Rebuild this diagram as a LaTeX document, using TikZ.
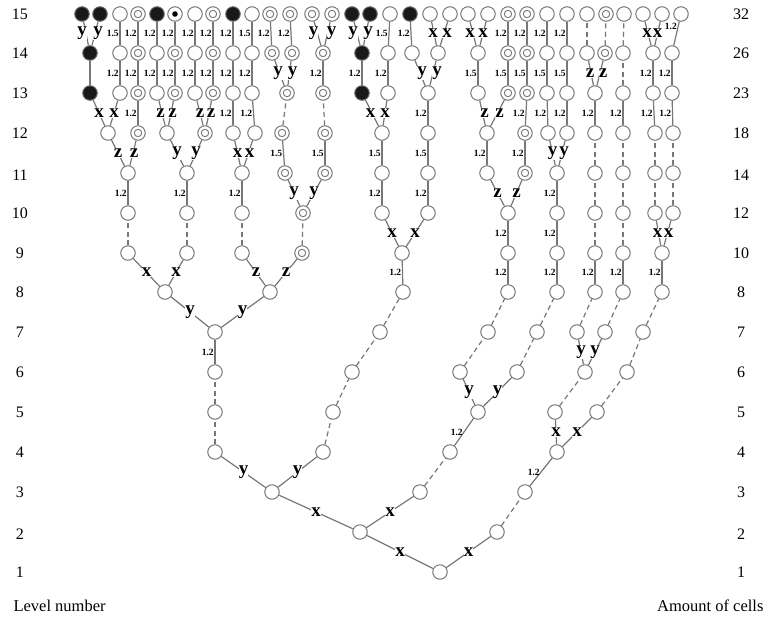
\documentclass[tikz,border=0pt]{standalone}
\usepackage{fontspec}
\setmainfont{Liberation Serif}
\definecolor{cgray}{HTML}{777777}
\begin{document}
\begin{tikzpicture}[x=1pt,y=-1pt,
 cell/.style={circle,draw=cgray,line width=1pt,minimum size=14.5pt,inner sep=0pt,fill=white},
 dbl/.style={cell,path picture={\draw[cgray,line width=0.9pt] (path picture bounding box.center) circle (3.7pt);}},
 blk/.style={cell,fill=black!90,draw=black!60},
 dotc/.style={cell,path picture={\fill[black] (path picture bounding box.center) circle (2.8pt);}},
 edge/.style={draw=cgray,line width=1.2pt},
 dsh/.style={edge,dash pattern=on 5pt off 3.5pt},
 lab/.style={font=\fontsize{19}{19}\selectfont\bfseries,fill=white,inner sep=0.2pt},
 num/.style={font=\fontsize{9.5}{9.5}\selectfont\bfseries,inner sep=0.4pt,anchor=east,xshift=-0.3pt},
 side/.style={font=\fontsize{16}{16}\selectfont},
 bot/.style={font=\fontsize{16.5}{16.5}\selectfont}]
\useasboundingbox (0,0) rectangle (768,619);
% ---------------- level 1-8
\node[cell] (r) at (440,572) {};
\node[cell] (a) at (360,532) {};
\node[cell] (b) at (497,532) {};
\node[cell] (a1) at (272,492) {};
\node[cell] (a2) at (420,492) {};
\node[cell] (b1) at (525,492) {};
\node[cell] (c1) at (215,452) {};
\node[cell] (c2) at (323,452) {};
\node[cell] (c3) at (450,452) {};
\node[cell] (c4) at (557,452) {};
\node[cell] (d1) at (215,412) {};
\node[cell] (d2) at (333,412) {};
\node[cell] (d3) at (478,412) {};
\node[cell] (d4) at (555,412) {};
\node[cell] (d5) at (597,412) {};
\node[cell] (e1) at (215,372) {};
\node[cell] (e2) at (352,372) {};
\node[cell] (e3) at (460,372) {};
\node[cell] (e4) at (517,372) {};
\node[cell] (e5) at (585,372) {};
\node[cell] (e6) at (627,372) {};
\node[cell] (f1) at (215,332) {};
\node[cell] (f2) at (380,332) {};
\node[cell] (f3) at (488,332) {};
\node[cell] (f4) at (537,332) {};
\node[cell] (f5) at (577,332) {};
\node[cell] (f6) at (605,332) {};
\node[cell] (f7) at (643,332) {};
\node[cell] (g1) at (165,292) {};
\node[cell] (g2) at (270,292) {};
\node[cell] (g3) at (403,292) {};
\node[cell] (g4) at (508,292) {};
\node[cell] (g5) at (557,292) {};
\node[cell] (g6) at (595,292) {};
\node[cell] (g7) at (623,292) {};
\node[cell] (g8) at (662,292) {};
% ---------------- level 9
\node[cell] (h1) at (128,253) {};
\node[cell] (h2) at (187,253) {};
\node[cell] (h3) at (242,253) {};
\node[dbl] (h4) at (302,253) {};
\node[cell] (h5) at (402,253) {};
\node[cell] (h6) at (508,253) {};
\node[cell] (h7) at (557,253) {};
\node[cell] (h8) at (595,253) {};
\node[cell] (h9) at (623,253) {};
\node[cell] (h10) at (662,253) {};
% ---------------- level 10
\node[cell] (i1) at (128,213) {};
\node[cell] (i2) at (187,213) {};
\node[cell] (i3) at (242,213) {};
\node[dbl] (i4) at (303,213) {};
\node[cell] (i5) at (382,213) {};
\node[cell] (i6) at (428,213) {};
\node[cell] (i7) at (508,213) {};
\node[cell] (i8) at (557,213) {};
\node[cell] (i9) at (595,213) {};
\node[cell] (i10) at (623,213) {};
\node[cell] (i11) at (655,213) {};
\node[cell] (i12) at (673,213) {};
% ---------------- level 11
\node[cell] (j1) at (128,173) {};
\node[cell] (j2) at (187,173) {};
\node[cell] (j3) at (242,173) {};
\node[dbl] (j4) at (285,173) {};
\node[dbl] (j5) at (325,173) {};
\node[cell] (j6) at (382,173) {};
\node[cell] (j7) at (428,173) {};
\node[cell] (j8) at (487,173) {};
\node[dbl] (j9) at (525,173) {};
\node[cell] (j10) at (557,173) {};
\node[cell] (j11) at (595,173) {};
\node[cell] (j12) at (623,173) {};
\node[cell] (j13) at (655,173) {};
\node[cell] (j14) at (673,173) {};
% ---------------- level 12
\node[cell] (k1) at (108,133) {};
\node[dbl] (k2) at (138,133) {};
\node[cell] (k3) at (167,133) {};
\node[dbl] (k4) at (205,133) {};
\node[cell] (k5) at (233,133) {};
\node[cell] (k6) at (255,133) {};
\node[dbl] (k7) at (282,133) {};
\node[dbl] (k8) at (325,133) {};
\node[cell] (k9) at (382,133) {};
\node[cell] (k10) at (428,133) {};
\node[cell] (k11) at (487,133) {};
\node[dbl] (k12) at (525,133) {};
\node[cell] (k13) at (548,133) {};
\node[cell] (k14) at (567,133) {};
\node[cell] (k15) at (595,133) {};
\node[cell] (k16) at (623,133) {};
\node[cell] (k17) at (655,133) {};
\node[cell] (k18) at (673,133) {};
% ---------------- level 13
\node[blk] (m1) at (90,93) {};
\node[cell] (m2) at (120,93) {};
\node[dbl] (m3) at (138,93) {};
\node[cell] (m4) at (157,93) {};
\node[dbl] (m5) at (175,93) {};
\node[cell] (m6) at (195,93) {};
\node[dbl] (m7) at (213,93) {};
\node[cell] (m8) at (233,93) {};
\node[cell] (m9) at (252,93) {};
\node[dbl] (m10) at (287,93) {};
\node[dbl] (m11) at (323,93) {};
\node[blk] (m12) at (362,93) {};
\node[cell] (m13) at (388,93) {};
\node[cell] (m14) at (428,93) {};
\node[cell] (m15) at (478,93) {};
\node[dbl] (m16) at (508,93) {};
\node[dbl] (m17) at (527,93) {};
\node[cell] (m18) at (547,93) {};
\node[cell] (m19) at (567,93) {};
\node[cell] (m20) at (595,93) {};
\node[cell] (m21) at (623,93) {};
\node[cell] (m22) at (653,93) {};
\node[cell] (m23) at (672,93) {};
% ---------------- level 14
\node[blk] (n1) at (90,53) {};
\node[cell] (n2) at (120,53) {};
\node[dbl] (n3) at (138,53) {};
\node[cell] (n4) at (157,53) {};
\node[dbl] (n5) at (175,53) {};
\node[cell] (n6) at (195,53) {};
\node[dbl] (n7) at (213,53) {};
\node[cell] (n8) at (233,53) {};
\node[cell] (n9) at (252,53) {};
\node[dbl] (n10) at (272,53) {};
\node[dbl] (n11) at (292,53) {};
\node[dbl] (n12) at (323,53) {};
\node[blk] (n13) at (362,53) {};
\node[cell] (n14) at (388,53) {};
\node[cell] (n15) at (412,53) {};
\node[cell] (n16) at (438,53) {};
\node[cell] (n17) at (478,53) {};
\node[dbl] (n18) at (508,53) {};
\node[dbl] (n19) at (527,53) {};
\node[cell] (n20) at (547,53) {};
\node[cell] (n21) at (567,53) {};
\node[cell] (n22) at (587,53) {};
\node[dbl] (n23) at (605,53) {};
\node[cell] (n24) at (623,53) {};
\node[cell] (n25) at (653,53) {};
\node[cell] (n26) at (672,53) {};
% ---------------- level 15
\node[blk] (o1) at (82,14) {};
\node[blk] (o2) at (100,14) {};
\node[cell] (o3) at (120,14) {};
\node[dbl] (o4) at (138,14) {};
\node[blk] (o5) at (157,14) {};
\node[dotc] (o6) at (175,14) {};
\node[cell] (o7) at (195,14) {};
\node[dbl] (o8) at (213,14) {};
\node[blk] (o9) at (233,14) {};
\node[cell] (o10) at (252,14) {};
\node[dbl] (o11) at (270,14) {};
\node[dbl] (o12) at (290,14) {};
\node[dbl] (o13) at (312,14) {};
\node[dbl] (o14) at (332,14) {};
\node[blk] (o15) at (352,14) {};
\node[blk] (o16) at (370,14) {};
\node[cell] (o17) at (390,14) {};
\node[blk] (o18) at (410,14) {};
\node[cell] (o19) at (430,14) {};
\node[cell] (o20) at (450,14) {};
\node[cell] (o21) at (468,14) {};
\node[cell] (o22) at (488,14) {};
\node[dbl] (o23) at (508,14) {};
\node[dbl] (o24) at (527,14) {};
\node[cell] (o25) at (547,14) {};
\node[cell] (o26) at (567,14) {};
\node[cell] (o27) at (587,14) {};
\node[dbl] (o28) at (606,14) {};
\node[cell] (o29) at (624,14) {};
\node[cell] (o30) at (643,14) {};
\node[cell] (o31) at (662,14) {};
\node[cell] (o32) at (681,14) {};
% ================= edges
% L1-L2-L3-L4
\draw[edge] (r) -- node[lab]{x} (a);
\draw[edge] (r) -- node[lab]{x} (b);
\draw[edge] (a) -- node[lab]{x} (a1);
\draw[edge] (a) -- node[lab]{x} (a2);
\draw[dsh] (b) -- (b1);
\draw[edge] (a1) -- node[lab]{y} (c1);
\draw[edge] (a1) -- node[lab]{y} (c2);
\draw[dsh] (a2) -- (c3);
\draw[edge] (b1) -- node[num]{1.2} (c4);
% L4-L5
\draw[dsh] (c1) -- (d1);
\draw[dsh] (c2) -- (d2);
\draw[edge] (c3) -- node[num]{1.2} (d3);
\draw[edge] (c4) -- node[lab]{x} (d4);
\draw[edge] (c4) -- node[lab]{x} (d5);
% L5-L6
\draw[dsh] (d1) -- (e1);
\draw[dsh] (d2) -- (e2);
\draw[edge] (d3) -- node[lab]{y} (e3);
\draw[edge] (d3) -- node[lab]{y} (e4);
\draw[dsh] (d4) -- (e5);
\draw[dsh] (d5) -- (e6);
% L6-L7
\draw[edge] (e1) -- node[num]{1.2} (f1);
\draw[dsh] (e2) -- (f2);
\draw[dsh] (e3) -- (f3);
\draw[dsh] (e4) -- (f4);
\draw[edge] (e5) -- node[lab]{y} (f5);
\draw[edge] (e5) -- node[lab]{y} (f6);
\draw[dsh] (e6) -- (f7);
% L7-L8
\draw[edge] (f1) -- node[lab]{y} (g1);
\draw[edge] (f1) -- node[lab]{y} (g2);
\draw[dsh] (f2) -- (g3);
\draw[dsh] (f3) -- (g4);
\draw[dsh] (f4) -- (g5);
\draw[dsh] (f5) -- (g6);
\draw[dsh] (f6) -- (g7);
\draw[dsh] (f7) -- (g8);
% L8-L9
\draw[edge] (g1) -- node[lab]{x} (h1);
\draw[edge] (g1) -- node[lab]{x} (h2);
\draw[edge] (g2) -- node[lab]{z} (h3);
\draw[edge] (g2) -- node[lab]{z} (h4);
\draw[edge] (g3) -- node[num]{1.2} (h5);
\draw[edge] (g4) -- node[num]{1.2} (h6);
\draw[edge] (g5) -- node[num]{1.2} (h7);
\draw[edge] (g6) -- node[num]{1.2} (h8);
\draw[edge] (g7) -- node[num]{1.2} (h9);
\draw[edge] (g8) -- node[num]{1.2} (h10);
% L9-L10
\draw[dsh] (h1) -- (i1);
\draw[dsh] (h2) -- (i2);
\draw[dsh] (h3) -- (i3);
\draw[dsh] (h4) -- (i4);
\draw[edge] (h5) -- node[lab]{x} (i5);
\draw[edge] (h5) -- node[lab]{x} (i6);
\draw[edge] (h6) -- node[num]{1.2} (i7);
\draw[edge] (h7) -- node[num]{1.2} (i8);
\draw[dsh] (h8) -- (i9);
\draw[dsh] (h9) -- (i10);
\draw[edge] (h10) -- node[lab,xshift=-1pt]{x} (i11);
\draw[edge] (h10) -- node[lab,xshift=1pt]{x} (i12);
% L10-L11
\draw[edge] (i1) -- node[num]{1.2} (j1);
\draw[edge] (i2) -- node[num]{1.2} (j2);
\draw[edge] (i3) -- node[num]{1.2} (j3);
\draw[edge] (i4) -- node[lab]{y} (j4);
\draw[edge] (i4) -- node[lab]{y} (j5);
\draw[edge] (i5) -- node[num]{1.2} (j6);
\draw[edge] (i6) -- node[num]{1.2} (j7);
\draw[edge] (i7) -- node[lab]{z} (j8);
\draw[edge] (i7) -- node[lab]{z} (j9);
\draw[edge] (i8) -- node[num]{1.2} (j10);
\draw[dsh] (i9) -- (j11);
\draw[dsh] (i10) -- (j12);
\draw[dsh] (i11) -- (j13);
\draw[dsh] (i12) -- (j14);
% L11-L12
\draw[edge] (j1) -- node[lab]{z} (k1);
\draw[edge] (j1) -- node[lab,xshift=1pt]{z} (k2);
\draw[edge] (j2) -- node[lab]{y} (k3);
\draw[edge] (j2) -- node[lab]{y} (k4);
\draw[edge] (j3) -- node[lab]{x} (k5);
\draw[edge] (j3) -- node[lab,xshift=1pt]{x} (k6);
\draw[edge] (j4) -- node[num]{1.5} (k7);
\draw[edge] (j5) -- node[num]{1.5} (k8);
\draw[edge] (j6) -- node[num]{1.5} (k9);
\draw[edge] (j7) -- node[num]{1.5} (k10);
\draw[edge] (j8) -- node[num]{1.2} (k11);
\draw[edge] (j9) -- node[num]{1.2} (k12);
\draw[edge] (j10) -- node[lab]{y} (k13);
\draw[edge] (j10) -- node[lab,xshift=2pt]{y} (k14);
\draw[dsh] (j11) -- (k15);
\draw[dsh] (j12) -- (k16);
\draw[dsh] (j13) -- (k17);
\draw[dsh] (j14) -- (k18);
% L12-L13
\draw[edge] (k1) -- node[lab]{x} (m1);
\draw[edge] (k1) -- node[lab]{x} (m2);
\draw[edge] (k2) -- node[num]{1.2} (m3);
\draw[edge] (k3) -- node[lab,xshift=-1.5pt]{z} (m4);
\draw[edge] (k3) -- node[lab,xshift=1.5pt]{z} (m5);
\draw[edge] (k4) -- node[lab]{z} (m6);
\draw[edge] (k4) -- node[lab,xshift=2pt]{z} (m7);
\draw[edge] (k5) -- node[num]{1.2} (m8);
\draw[edge] (k6) -- node[num]{1.2} (m9);
\draw[dsh] (k7) -- (m10);
\draw[dsh] (k8) -- (m11);
\draw[edge] (k9) -- node[lab,xshift=-1.5pt]{x} (m12);
\draw[edge] (k9) -- node[lab]{x} (m13);
\draw[edge] (k10) -- node[num]{1.2} (m14);
\draw[edge] (k11) -- node[lab,xshift=2pt]{z} (m15);
\draw[edge] (k11) -- node[lab,xshift=2pt]{z} (m16);
\draw[edge] (k12) -- node[num]{1.2} (m17);
\draw[edge] (k13) -- node[num]{1.2} (m18);
\draw[edge] (k14) -- node[num]{1.2} (m19);
\draw[edge] (k15) -- node[num]{1.2} (m20);
\draw[edge] (k16) -- node[num]{1.2} (m21);
\draw[edge] (k17) -- node[num]{1.2} (m22);
\draw[edge] (k18) -- node[num]{1.2} (m23);
% L13-L14
\draw[edge] (m1) -- (n1);
\draw[edge] (m2) -- node[num]{1.2} (n2);
\draw[edge] (m3) -- node[num]{1.2} (n3);
\draw[edge] (m4) -- node[num]{1.2} (n4);
\draw[edge] (m5) -- node[num]{1.2} (n5);
\draw[edge] (m6) -- node[num]{1.2} (n6);
\draw[edge] (m7) -- node[num]{1.2} (n7);
\draw[edge] (m8) -- node[num]{1.2} (n8);
\draw[edge] (m9) -- node[num]{1.2} (n9);
\draw[edge] (m10) -- node[lab,xshift=-1.5pt]{y} (n10);
\draw[edge] (m10) -- node[lab,xshift=3pt]{y} (n11);
\draw[edge] (m11) -- node[num]{1.2} (n12);
\draw[edge] (m12) -- node[num]{1.2} (n13);
\draw[edge] (m13) -- node[num]{1.2} (n14);
\draw[edge] (m14) -- node[lab,xshift=2pt]{y} (n15);
\draw[edge] (m14) -- node[lab,xshift=4pt]{y} (n16);
\draw[edge] (m15) -- node[num]{1.5} (n17);
\draw[edge] (m16) -- node[num]{1.5} (n18);
\draw[edge] (m17) -- node[num]{1.5} (n19);
\draw[edge] (m18) -- node[num]{1.5} (n20);
\draw[edge] (m19) -- node[num]{1.5} (n21);
\draw[edge] (m20) -- node[lab,xshift=-1pt]{z} (n22);
\draw[edge] (m20) -- node[lab,xshift=3pt]{z} (n23);
\draw[dsh] (m21) -- (n24);
\draw[edge] (m22) -- node[num]{1.2} (n25);
\draw[edge] (m23) -- node[num]{1.2} (n26);
% L14-L15
\draw[edge] (n1) -- node[lab,xshift=-4pt]{y} (o1);
\draw[edge] (n1) -- node[lab,xshift=3pt]{y} (o2);
\draw[edge] (n2) -- node[num]{1.5} (o3);
\draw[edge] (n3) -- node[num]{1.2} (o4);
\draw[edge] (n4) -- node[num]{1.2} (o5);
\draw[edge] (n5) -- node[num]{1.2} (o6);
\draw[edge] (n6) -- node[num]{1.2} (o7);
\draw[edge] (n7) -- node[num]{1.2} (o8);
\draw[edge] (n8) -- node[num]{1.2} (o9);
\draw[edge] (n9) -- node[num]{1.5} (o10);
\draw[edge] (n10) -- node[num]{1.2} (o11);
\draw[edge] (n11) -- node[num]{1.2} (o12);
\draw[edge] (n12) -- node[lab,xshift=-4pt]{y} (o13);
\draw[edge] (n12) -- node[lab,xshift=4pt]{y} (o14);
\draw[edge] (n13) -- node[lab,xshift=-4pt]{y} (o15);
\draw[edge] (n13) -- node[lab,xshift=2pt]{y} (o16);
\draw[edge] (n14) -- node[num]{1.5} (o17);
\draw[edge] (n15) -- node[num]{1.2} (o18);
\draw[edge] (n16) -- node[lab,xshift=-1pt]{x} (o19);
\draw[edge] (n16) -- node[lab,xshift=3pt]{x} (o20);
\draw[edge] (n17) -- node[lab,xshift=-3pt]{x} (o21);
\draw[edge] (n17) -- node[lab]{x} (o22);
\draw[edge] (n18) -- node[num]{1.2} (o23);
\draw[edge] (n19) -- node[num]{1.2} (o24);
\draw[edge] (n20) -- node[num]{1.2} (o25);
\draw[edge] (n21) -- node[num]{1.2} (o26);
\draw[dsh] (n22) -- (o27);
\draw[dsh] (n23) -- (o28);
\draw[dsh] (n24) -- (o29);
\draw[edge] (n25) -- node[lab,xshift=-1pt]{x} (o30);
\draw[edge] (n25) -- node[lab]{x} (o31);
\draw[edge] (n26) -- node[num,pos=0.8]{1.2} (o32);
% ================= side labels
\foreach \lv/\yy/\cnt in {15/14/32,14/53/26,13/93/23,12/133/18,11/175/14,10/213/12,9/253/10,8/292/8,7/332/7,6/372/6,5/412/5,4/452/4,3/492/3,2/534/2,1/572/1}{
  \node[side] (lv\lv) at (20,\yy) {\lv};
  \node[side] (ct\lv) at (741,\yy) {\cnt};
}
\node[bot,anchor=west] (lvl) at (10,606) {Level number};
\node[bot,anchor=east] (amt) at (767,606) {Amount of cells};
\end{tikzpicture}
\end{document}
